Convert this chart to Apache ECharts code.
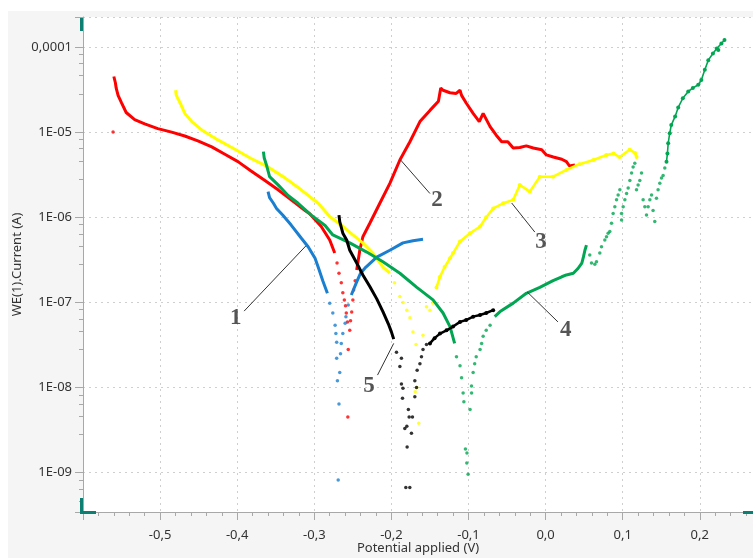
<!DOCTYPE html>
<html>
<head>
<meta charset="utf-8">
<title>Polarization curves</title>
<script src="https://cdn.jsdelivr.net/npm/echarts@6.0.0/dist/echarts.min.js"></script>
<style>
  html, body { margin: 0; padding: 0; background: #ffffff; }
  #chart { width: 753px; height: 558px; }
</style>
</head>
<body>
<div id="chart"></div>
<script>
// points are [potential (V), current (A)]
// curve 1 - blue
const blueLeft = [[-0.360,2.0e-6],[-0.358,1.7e-6],[-0.353,1.46e-6],[-0.349,1.27e-6],[-0.341,1.06e-6],[-0.330,8.1e-7],[-0.317,5.7e-7],[-0.308,4.5e-7],[-0.299,3.3e-7],[-0.295,2.6e-7],[-0.289,1.8e-7],[-0.283,1.28e-7]]
const blueDip = [[-0.280,9.8e-8],[-0.276,7.5e-8],[-0.273,5.4e-8],[-0.272,4.3e-8],[-0.271,3.4e-8],[-0.271,2.2e-8],[-0.267,1.5e-8],[-0.270,1.2e-8],[-0.268,6.4e-9],[-0.269,8.2e-10],[-0.266,2.5e-8],[-0.265,3.3e-8],[-0.263,4.3e-8],[-0.260,5.7e-8],[-0.259,6.8e-8],[-0.256,9.3e-8]]
const blueRight = [[-0.252,1.22e-7],[-0.245,1.74e-7],[-0.240,2.2e-7],[-0.233,2.6e-7],[-0.219,3.4e-7],[-0.202,4.1e-7],[-0.185,5.0e-7],[-0.172,5.3e-7],[-0.159,5.5e-7]]

// curve 2 - red
const redLeft = [[-0.560,4.5e-5],[-0.558,3.8e-5],[-0.557,3.3e-5],[-0.5545,2.7e-5],[-0.550,2.2e-5],[-0.544,1.7e-5],[-0.533,1.4e-5],[-0.520,1.25e-5],[-0.503,1.1e-5],[-0.485,1.0e-5],[-0.468,9.0e-6],[-0.451,7.9e-6],[-0.433,6.7e-6],[-0.416,5.5e-6],[-0.399,4.5e-6],[-0.382,3.5e-6],[-0.364,2.7e-6],[-0.347,2.1e-6],[-0.330,1.6e-6],[-0.312,1.2e-6],[-0.306,1.1e-6],[-0.291,7.8e-7],[-0.280,5.4e-7],[-0.2735,3.8e-7]]
const redDip = [[-0.561,1.0e-5],[-0.2705,2.9e-7],[-0.268,2.2e-7],[-0.265,1.7e-7],[-0.263,1.3e-7],[-0.261,1.07e-7],[-0.2595,9.1e-8],[-0.2585,7.5e-8],[-0.257,5.9e-8],[-0.256,2.8e-8],[-0.2565,4.5e-9],[-0.254,4.7e-8],[-0.253,6.1e-8],[-0.2515,7.7e-8],[-0.250,1.07e-7],[-0.249,1.4e-7],[-0.247,1.8e-7]]
const redRight = [[-0.245,2.4e-7],[-0.241,4.1e-7],[-0.237,5.9e-7],[-0.228,8.5e-7],[-0.215,1.46e-6],[-0.202,2.5e-6],[-0.189,4.7e-6],[-0.176,7.7e-6],[-0.163,1.33e-5],[-0.150,1.8e-5],[-0.139,2.3e-5],[-0.136,3.3e-5],[-0.133,3.1e-5],[-0.124,2.9e-5],[-0.116,2.85e-5],[-0.111,3.1e-5],[-0.109,2.7e-5],[-0.103,2.2e-5],[-0.094,1.66e-5],[-0.086,1.33e-5],[-0.081,1.66e-5],[-0.079,1.6e-5],[-0.072,1.16e-5],[-0.064,9.2e-6],[-0.057,7.7e-6],[-0.049,7.7e-6],[-0.042,6.5e-6],[-0.0335,6.6e-6],[-0.025,6.9e-6],[-0.016,6.5e-6],[-0.005,6.2e-6],[0.001,5.4e-6],[0.010,5.1e-6],[0.021,4.8e-6],[0.027,4.5e-6],[0.031,4.0e-6],[0.038,4.1e-6]]

// curve 3 - yellow
const yellowLeft = [[-0.480,3.1e-5],[-0.479,2.7e-5],[-0.474,2.2e-5],[-0.468,1.66e-5],[-0.459,1.33e-5],[-0.446,1.06e-5],[-0.425,8.1e-6],[-0.403,6.3e-6],[-0.382,4.9e-6],[-0.360,3.9e-6],[-0.338,2.9e-6],[-0.317,2.1e-6],[-0.295,1.46e-6],[-0.280,1.02e-6],[-0.263,7.8e-7],[-0.250,6.2e-7],[-0.237,5.0e-7],[-0.224,3.8e-7],[-0.211,2.6e-7],[-0.202,2.2e-7]]
const yellowDip = [[-0.196,1.7e-7],[-0.189,1.17e-7],[-0.185,1.0e-7],[-0.180,8.1e-8],[-0.176,6.6e-8],[-0.172,4.5e-8],[-0.168,3.2e-8],[-0.167,1.0e-8],[-0.169,8.9e-9],[-0.1645,3.8e-9],[-0.159,4.1e-8],[-0.1545,8.9e-8],[-0.150,8.1e-8],[-0.146,9.8e-8]]
const yellowRight = [[-0.1415,1.5e-7],[-0.137,2.0e-7],[-0.131,2.6e-7],[-0.124,3.3e-7],[-0.120,3.8e-7],[-0.111,5.2e-7],[-0.098,6.5e-7],[-0.085,7.8e-7],[-0.077,1.0e-6],[-0.068,1.27e-6],[-0.055,1.46e-6],[-0.042,1.6e-6],[-0.0335,2.4e-6],[-0.0205,2.0e-6],[-0.0075,3.0e-6],[0.0097,3.0e-6],[0.027,3.6e-6],[0.044,4.2e-6],[0.062,4.7e-6],[0.079,5.4e-6],[0.088,5.6e-6],[0.096,5.1e-6],[0.109,6.2e-6],[0.116,5.7e-6],[0.118,5.1e-6]]

// curve 4 - green
const greenLeft = [[-0.366,5.9e-6],[-0.365,5.0e-6],[-0.362,4.1e-6],[-0.358,3.0e-6],[-0.347,2.4e-6],[-0.334,1.8e-6],[-0.321,1.46e-6],[-0.304,1.06e-6],[-0.286,8.0e-7],[-0.276,6.2e-7],[-0.254,5.0e-7],[-0.232,3.9e-7],[-0.211,3.0e-7],[-0.189,2.2e-7],[-0.167,1.5e-7],[-0.146,1.07e-7],[-0.133,7.5e-8],[-0.124,5.2e-8],[-0.118,3.3e-8]]
const greenDip = [[-0.1156,2.3e-8],[-0.111,1.8e-8],[-0.109,1.3e-8],[-0.107,8.6e-9],[-0.106,6.8e-9],[-0.104,1.9e-9],[-0.102,1.7e-9],[-0.1022,1.3e-9],[-0.1005,9.6e-10],[-0.098,5.5e-9],[-0.096,8.6e-9],[-0.0961,1.04e-8],[-0.094,1.5e-8],[-0.092,1.9e-8],[-0.090,2.3e-8],[-0.085,2.8e-8],[-0.083,3.3e-8],[-0.081,4.0e-8],[-0.077,4.7e-8],[-0.072,5.4e-8]]
const greenRight = [[-0.066,6.8e-8],[-0.059,7.8e-8],[-0.042,9.8e-8],[-0.025,1.28e-7],[-0.0075,1.5e-7],[0.0097,1.8e-7],[0.021,2.0e-7],[0.027,2.1e-7],[0.036,2.2e-7],[0.042,2.5e-7],[0.047,2.9e-7],[0.049,3.4e-7],[0.051,4.1e-7],[0.053,4.7e-7]]
const greenScatter = [[0.0573,3.6e-7],[0.0595,2.9e-7],[0.0638,2.8e-7],[0.066,3.0e-7],[0.0703,3.8e-7],[0.0725,4.5e-7],[0.0768,5.4e-7],[0.079,5.9e-7],[0.0811,6.5e-7],[0.0833,6.8e-7],[0.0855,8.5e-7],[0.0876,1.11e-6],[0.0898,1.33e-6],[0.092,1.6e-6],[0.0941,1.83e-6],[0.0963,2.1e-6],
  [0.0985,9.3e-7],[0.0985,1.11e-6],[0.1006,1.33e-6],[0.1028,1.6e-6],[0.105,1.9e-6],[0.1071,2.2e-6],[0.1093,2.7e-6],[0.1115,3.3e-6],[0.1135,3.9e-6],[0.1157,4.3e-6],
  [0.1179,2.1e-6],[0.12,2.4e-6],[0.1222,2.7e-6],[0.1244,3.3e-6],
  [0.1265,1.6e-6],[0.1287,1.33e-6],[0.1309,1.06e-6],[0.133,1.33e-6],[0.1352,1.6e-6],[0.1374,1.83e-6],[0.1394,1.2e-6],[0.1416,8.9e-7],[0.1438,1.67e-6],[0.1459,2.1e-6],[0.1481,2.5e-6],[0.1503,2.9e-6],[0.1524,3.1e-6],[0.1546,3.8e-6]]
const greenTop = [[0.1568,4.5e-6],[0.158,5.6e-6],[0.159,7.4e-6],[0.161,9.7e-6],[0.163,1.21e-5],[0.168,1.53e-5],[0.172,1.95e-5],[0.178,2.5e-5],[0.185,3.0e-5],[0.191,3.3e-5],[0.198,3.6e-5],[0.202,4.1e-5],[0.2065,5.4e-5],[0.211,7.0e-5],[0.217,8.4e-5],[0.222,9.6e-5],[0.224,9.2e-5],[0.228,1.1e-4],[0.232,1.21e-4]]

// curve 5 - black
const blackLeft = [[-0.268,1.06e-6],[-0.267,8.9e-7],[-0.263,6.5e-7],[-0.258,5.4e-7],[-0.254,4.1e-7],[-0.245,2.9e-7],[-0.237,2.1e-7],[-0.228,1.54e-7],[-0.219,1.1e-7],[-0.211,7.8e-8],[-0.204,5.6e-8],[-0.200,4.5e-8],[-0.197,3.7e-8]]
const blackDip = [[-0.1934,2.6e-8],[-0.187,2.2e-8],[-0.189,1.76e-8],[-0.187,1.1e-8],[-0.185,9.8e-9],[-0.1856,7.5e-9],[-0.178,5.5e-9],[-0.177,4.5e-9],[-0.1727,4.5e-9],[-0.180,3.5e-9],[-0.1826,3.3e-9],[-0.174,2.9e-9],[-0.1796,2.0e-9],[-0.1813,6.7e-10],[-0.1761,6.7e-10],[-0.1696,7.8e-9],[-0.1674,1.0e-8],[-0.1696,1.2e-8],[-0.1666,1.6e-8],[-0.163,1.9e-8],[-0.161,2.3e-8],[-0.159,2.8e-8],[-0.1545,3.2e-8]]
const blackRight = [[-0.150,3.3e-8],[-0.144,3.8e-8],[-0.137,4.3e-8],[-0.1285,4.7e-8],[-0.120,5.2e-8],[-0.111,5.9e-8],[-0.103,6.2e-8],[-0.094,6.8e-8],[-0.085,7.1e-8],[-0.077,7.5e-8],[-0.068,8.1e-8]]

// curve numbers and their leader lines
const labelNames = ['1', '2', '3', '4', '5']
const labelPos = [[-0.402,6.6e-8],[-0.141,1.6e-6],[-0.006,5.1e-7],[0.026,4.7e-8],[-0.229,1.04e-8]]
const leaderLines = [
  [[-0.391,7.9e-8],[-0.311,4.6e-7]],
  [[-0.150,1.9e-6],[-0.188,4.7e-6]],
  [[-0.014,6.7e-7],[-0.044,1.47e-6]],
  [[0.016,5.9e-8],[-0.024,1.33e-7]],
  [[-0.218,1.4e-8],[-0.197,3.3e-8]]
]

const RED = '#ff0000'
const YELLOW = '#ffff00'
const BLUE = '#1a7fd0'
const GREEN = '#00a651'
const BLACK = '#000000'
const TEAL = '#0d7f72'

function solid(data, color, z) {
  return { type: 'line', data: data, symbol: 'none', z: z, lineStyle: { color: color, width: 3 } }
}
function dots(data, color, z) {
  return { type: 'scatter', data: data, symbolSize: 3.5, z: z, itemStyle: { color: color } }
}
function noisy(data, color, z, width) {
  return {
    type: 'line', data: data, symbol: 'circle', symbolSize: 4, showSymbol: true, z: z,
    lineStyle: { color: color, width: width }, itemStyle: { color: color, borderWidth: 0 }
  }
}

function fmtY(v) {
  const e = Math.round(Math.log10(v))
  if (e >= -4) return '0,' + '0'.repeat(-e - 1) + '1'
  return '1E-' + String(-e).padStart(2, '0')
}

const chart = echarts.init(document.getElementById('chart'))
chart.setOption({
  animation: false,
  textStyle: { fontFamily: 'Noto Sans' },
  graphic: [
    { type: 'rect', z: -100, shape: { x: 8, y: 11, width: 745, height: 547 }, style: { fill: '#f5f5f5' } },
    // axis range handles
    { type: 'rect', z: 100, shape: { x: 80, y: 18, width: 3, height: 13 }, style: { fill: TEAL } },
    { type: 'rect', z: 100, shape: { x: 80, y: 498, width: 3, height: 15 }, style: { fill: TEAL } },
    { type: 'rect', z: 100, shape: { x: 80, y: 511, width: 16, height: 3 }, style: { fill: TEAL } },
    { type: 'rect', z: 100, shape: { x: 743, y: 511, width: 10, height: 3 }, style: { fill: TEAL } }
  ],
  grid: {
    left: 83, top: 17, right: 0, bottom: 46,
    outerBoundsMode: 'none', containLabel: false,
    show: true, backgroundColor: '#ffffff', borderWidth: 0
  },
  xAxis: {
    type: 'value', min: -0.6, max: 0.269, interval: 0.1,
    name: 'Potential applied (V)', nameLocation: 'middle', nameGap: 30, nameMoveOverlap: false,
    nameTextStyle: { fontSize: 13, color: '#333' },
    axisLine: { onZero: false, lineStyle: { color: '#a8a8a8' } },
    axisTick: { length: 8, lineStyle: { color: '#a8a8a8' } },
    minorTick: { show: true, splitNumber: 5, length: 4, lineStyle: { color: '#a8a8a8' } },
    axisLabel: {
      fontSize: 13, color: '#333', margin: 17, showMinLabel: false, showMaxLabel: false,
      formatter: v => v.toFixed(1).replace('.', ',')
    },
    splitLine: { show: true, lineStyle: { color: '#cfcfcf', type: [2, 4] } }
  },
  yAxis: {
    type: 'log', logBase: 10, min: 3.45e-10, max: 2.25e-4,
    name: 'WE(1).Current (A)', nameLocation: 'middle', nameGap: 59, nameMoveOverlap: false,
    nameTextStyle: { fontSize: 13, color: '#333' },
    axisLine: { show: true, onZero: false, lineStyle: { color: '#a8a8a8' } },
    axisTick: { show: true, length: 8, lineStyle: { color: '#a8a8a8' } },
    minorTick: { show: true, splitNumber: 5, length: 4, lineStyle: { color: '#a8a8a8' } },
    axisLabel: {
      fontSize: 13, color: '#333', margin: 11, showMinLabel: false, showMaxLabel: false,
      formatter: fmtY
    },
    splitLine: { show: true, lineStyle: { color: '#cfcfcf', type: [2, 4] } }
  },
  series: [
    solid(redLeft, RED, 2), dots(redDip, RED, 2), solid(redRight, RED, 2),
    solid(yellowLeft, YELLOW, 3), dots(yellowDip, YELLOW, 3), noisy(yellowRight, YELLOW, 3, 2.5),
    solid(blueLeft, BLUE, 4), dots(blueDip, BLUE, 4), solid(blueRight, BLUE, 4),
    solid(greenLeft, GREEN, 5), dots(greenDip, GREEN, 5), solid(greenRight, GREEN, 5),
    dots(greenScatter, GREEN, 5), noisy(greenTop, GREEN, 5, 1.6),
    solid(blackLeft, BLACK, 6), dots(blackDip, BLACK, 6), noisy(blackRight, BLACK, 6, 2.5),
    {
      type: 'lines', coordinateSystem: 'cartesian2d', z: 7,
      lineStyle: { color: '#333', width: 1, opacity: 1 },
      data: leaderLines.map(c => ({ coords: c }))
    },
    {
      type: 'scatter', symbolSize: 0, z: 8,
      data: labelNames.map((n, i) => ({ name: n, value: labelPos[i] })),
      label: {
        show: true, position: 'inside', formatter: '{b}',
        fontFamily: 'Liberation Serif', fontWeight: 'bold', fontSize: 23, color: '#2b2b2b'
      }
    }
  ]
})
</script>
</body>
</html>
